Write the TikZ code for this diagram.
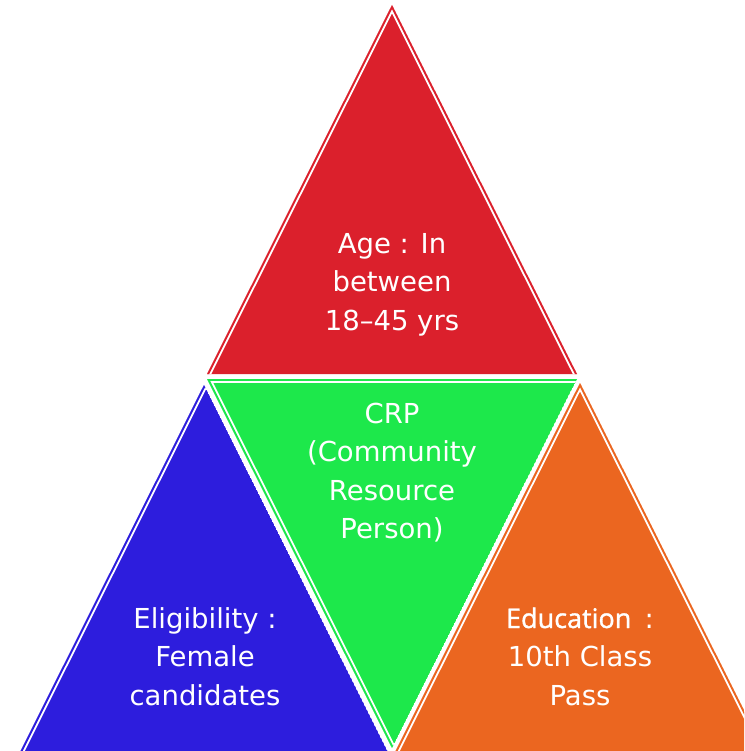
\documentclass[tikz,border=0pt]{standalone}
\usepackage{fontspec}
\setmainfont{DejaVu Sans}
\newfontfamily\osans[FakeBold=1.3]{Open Sans}
\definecolor{cred}{RGB}{219,32,44}
\definecolor{cgreen}{RGB}{29,232,75}
\definecolor{cblue}{RGB}{45,29,221}
\definecolor{corange}{RGB}{235,102,32}
\tikzset{
  lbl/.style={text=white, font=\fontsize{27.5}{38.5}\selectfont, inner sep=0pt, anchor=base},
  wline/.style={draw=white, line width=7.6pt, line join=miter, shorten <=-12pt, shorten >=-12pt},
  cline/.style={line width=3.8pt, line join=miter, shorten <=-12pt, shorten >=-12pt},
}
\begin{document}
\begin{tikzpicture}[x=1pt,y=-1pt]
\useasboundingbox (0,0) rectangle (744,751);
\clip (0,0) rectangle (744,751);
% red top triangle
\coordinate (rA) at (392,5);
\coordinate (rL) at (207,374);
\coordinate (rR) at (577,374);
\begin{scope}
  \clip (rA) -- (rL) -- (rR) -- cycle;
  \fill[cred] (rA) -- (rL) -- (rR) -- cycle;
  \draw[wline] (rL) -- (rA) -- (rR);
  \draw[cline, draw=cred] (rL) -- (rA) -- (rR);
\end{scope}
% green inverted triangle
\coordinate (gL) at (207,379);
\coordinate (gR) at (577,379);
\coordinate (gB) at (392,748);
\begin{scope}
  \clip (gL) -- (gR) -- (gB) -- cycle;
  \fill[cgreen] (gL) -- (gR) -- (gB) -- cycle;
  \draw[wline] (gR) -- (gL) -- (gB);
  \draw[cline, draw=cgreen] (gR) -- (gL) -- (gB);
\end{scope}
% blue triangle
\coordinate (bA) at (204,385);
\coordinate (bL) at (19,754);
\coordinate (bR) at (389,754);
\begin{scope}
  \clip (bA) -- (bL) -- (bR) -- cycle;
  \fill[cblue] (bA) -- (bL) -- (bR) -- cycle;
  \draw[wline] (bL) -- (bA);
  \draw[cline, draw=cblue] (bL) -- (bA);
\end{scope}
% orange triangle
\coordinate (oA) at (580,383);
\coordinate (oL) at (395,752);
\coordinate (oR) at (765,752);
\begin{scope}
  \clip (oA) -- (oL) -- (oR) -- cycle;
  \fill[corange] (oA) -- (oL) -- (oR) -- cycle;
  \draw[wline] (oL) -- (oA) -- (oR);
  \draw[cline, draw=corange] (oL) -- (oA) -- (oR);
\end{scope}
% texts
\node[lbl] (age1) at (392,253) {Age : In};
\node[lbl] (age2) at (392,291.5) {between};
\node[lbl] (age3) at (392,330) {18–45 yrs};
\node[lbl] (crp1) at (392,423) {CRP};
\node[lbl] (crp2) at (392,461.5) {(Community};
\node[lbl] (crp3) at (392,500) {Resource};
\node[lbl] (crp4) at (392,538.5) {Person)};
\node[lbl] (eli1) at (205,628) {Eligibility :};
\node[lbl] (eli2) at (205,666.5) {Female};
\node[lbl] (eli3) at (205,705) {candidates};
\node[lbl] (edu1) at (580,628) {{\osans\fontsize{27}{30}\selectfont Education}\, :};
\node[lbl] (edu2) at (580,666.5) {10th Class};
\node[lbl] (edu3) at (580,705) {Pass};
\end{tikzpicture}
\end{document}
